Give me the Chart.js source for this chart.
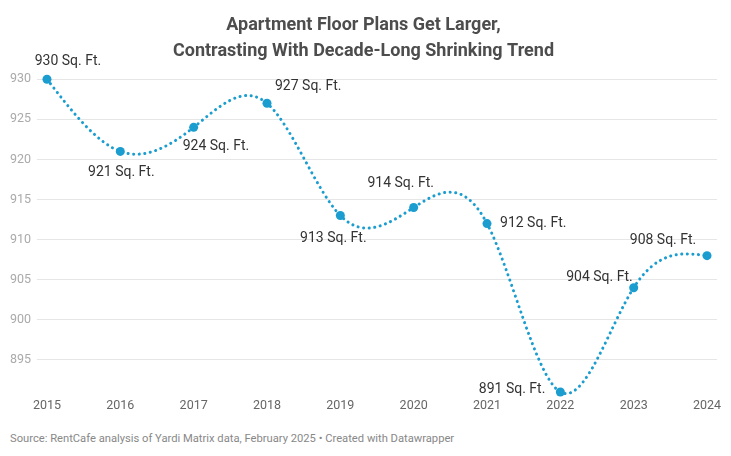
<!DOCTYPE html>
<html>
<head>
<meta charset="utf-8">
<script src="https://cdn.jsdelivr.net/npm/chart.js@4"></script>
<style>
  html, body { margin: 0; padding: 0; background: #fff; }
  body { width: 731px; height: 456px; overflow: hidden; font-family: Roboto, sans-serif; }
  #wrap { position: relative; width: 731px; height: 425px; }
  #source { position: absolute; left: 10px; top: 432px; font-size: 11.2px; color: #888; }
</style>
</head>
<body>
<div id="wrap"><canvas id="chart"></canvas></div>
<div id="source">Source: RentCafe analysis of Yardi Matrix data, February 2025 • Created with Datawrapper</div>
<script>
// Chart data
const years = [2015, 2016, 2017, 2018, 2019, 2020, 2021, 2022, 2023, 2024];
const sqft = [930, 921, 924, 927, 913, 914, 912, 891, 904, 908];
const yTicks = [895, 900, 905, 910, 915, 920, 925, 930];

// Label placement around each point: [dx, dy, textAlign]
const labelPos = [
    [21, -18, 'center'],
    [1, 21, 'center'],
    [-11, 19, 'left'],
    [8, -17, 'left'],
    [-7, 23, 'center'],
    [-13, -24, 'center'],
    [13, 0, 'left'],
    [-15, -3, 'right'],
    [-1, -10, 'right'],
    [-44, -15, 'center']
];

const lineColor = '#1b9dcf';

// Replace Chart.js's bezier control points with a natural cubic spline
// (the reference curve overshoots like d3.curveNatural)
const naturalCurve = {
    id: 'naturalCurve',
    beforeDatasetsDraw(chart) {
        const line = chart.getDatasetMeta(0).dataset;
        line.updateControlPoints(chart.chartArea);
        const pts = line.points;
        const n = pts.length;
        if (n < 3) return;
        const xs = pts.map(p => p.x);
        const ys = pts.map(p => p.y);
        const h = [];
        for (let i = 0; i < n - 1; i++) h.push(xs[i + 1] - xs[i]);

        // tridiagonal system for second derivatives, M[0] = M[n-1] = 0
        const M = new Array(n).fill(0);
        const a = [], b = [], c = [], r = [];
        for (let i = 1; i < n - 1; i++) {
            a.push(h[i - 1]);
            b.push(2 * (h[i - 1] + h[i]));
            c.push(h[i]);
            r.push(6 * ((ys[i + 1] - ys[i]) / h[i] - (ys[i] - ys[i - 1]) / h[i - 1]));
        }
        const m = b.length;
        for (let i = 1; i < m; i++) {
            const w = a[i] / b[i - 1];
            b[i] -= w * c[i - 1];
            r[i] -= w * r[i - 1];
        }
        const sol = new Array(m);
        sol[m - 1] = r[m - 1] / b[m - 1];
        for (let i = m - 2; i >= 0; i--) sol[i] = (r[i] - c[i] * sol[i + 1]) / b[i];
        for (let i = 0; i < m; i++) M[i + 1] = sol[i];

        // slope at each knot
        const d = [];
        for (let i = 0; i < n - 1; i++) {
            d.push((ys[i + 1] - ys[i]) / h[i] - h[i] * (2 * M[i] + M[i + 1]) / 6);
        }
        d.push((ys[n - 1] - ys[n - 2]) / h[n - 2] + h[n - 2] * (M[n - 2] + 2 * M[n - 1]) / 6);

        pts.forEach((p, i) => {
            const hp = i > 0 ? h[i - 1] / 3 : 0;
            const hn = i < n - 1 ? h[i] / 3 : 0;
            p.cp1x = p.x - hp;
            p.cp1y = p.y - hp * d[i];
            p.cp2x = p.x + hn;
            p.cp2y = p.y + hn * d[i];
        });
        delete line._path;
    }
};

// Draw "xxx Sq. Ft." labels next to the points
const pointLabels = {
    id: 'pointLabels',
    afterDatasetsDraw(chart) {
        const ctx = chart.ctx;
        const meta = chart.getDatasetMeta(0);
        ctx.save();
        ctx.font = '14px Roboto';
        ctx.fillStyle = '#333';
        ctx.textBaseline = 'middle';
        meta.data.forEach((pt, i) => {
            const pos = labelPos[i];
            ctx.textAlign = pos[2];
            ctx.fillText(sqft[i] + ' Sq. Ft.', pt.x + pos[0], pt.y + pos[1]);
        });
        ctx.restore();
    }
};

new Chart(document.getElementById('chart'), {
    type: 'line',
    data: {
        datasets: [{
            data: years.map((y, i) => ({ x: y, y: sqft[i] })),
            borderColor: lineColor,
            backgroundColor: lineColor,
            borderWidth: 3,
            borderDash: [0.1, 5.5],
            borderCapStyle: 'round',
            tension: 0.4,
            pointRadius: 4.5,
            pointBorderWidth: 0,
            pointBackgroundColor: lineColor,
            clip: false
        }]
    },
    options: {
        responsive: true,
        maintainAspectRatio: false,
        animation: false,
        layout: { padding: { left: 10, right: 14, top: 0, bottom: 14 } },
        plugins: {
            legend: { display: false },
            tooltip: { enabled: false },
            title: {
                display: true,
                text: ['Apartment Floor Plans Get Larger,', 'Contrasting With Decade-Long Shrinking Trend'],
                color: '#4d4d4d',
                font: { family: 'Roboto', size: 18, weight: 'bold', lineHeight: 1.45 },
                padding: { top: 12, bottom: 15 }
            }
        },
        scales: {
            x: {
                type: 'linear',
                min: 2014.864,
                max: 2024.136,
                afterBuildTicks: scale => { scale.ticks = years.map(v => ({ value: v })); },
                grid: { display: false },
                border: { display: false },
                ticks: {
                    color: '#666',
                    font: { family: 'Roboto', size: 12.5 },
                    padding: -2,
                    maxRotation: 0,
                    callback: v => String(v)
                }
            },
            y: {
                min: 891,
                max: 930,
                afterBuildTicks: scale => { scale.ticks = yTicks.map(v => ({ value: v })); },
                afterFit: scale => { scale.width = 27; },
                grid: { color: '#e6e6e6', lineWidth: 1, drawTicks: false },
                border: { display: false },
                ticks: {
                    color: '#aaa',
                    font: { family: 'Roboto', size: 12.5 },
                    crossAlign: 'far',
                    padding: 0
                }
            }
        }
    },
    plugins: [naturalCurve, pointLabels]
});
</script>
</body>
</html>
